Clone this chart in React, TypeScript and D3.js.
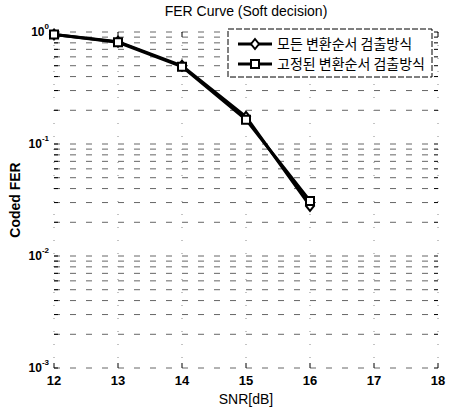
import React, { useEffect, useRef } from "react";
import * as d3 from "d3";

const snr = [12, 13, 14, 15, 16];
const ferAll = [0.95, 0.82, 0.5, 0.175, 0.028];
const ferFixed = [0.95, 0.81, 0.49, 0.165, 0.031];
const xTicks = [12, 13, 14, 15, 16, 17, 18];
const yDecades = [0, -1, -2, -3];
const legendLabels = ["모든 변환순서 검출방식", "고정된 변환순서 검출방식"];

const W = 451;
const H = 409;
const margin = { left: 54, right: 13, top: 32, bottom: 41 };

const App = () => {
  const ref = useRef<SVGSVGElement>(null);

  useEffect(() => {
    const svg = d3.select(ref.current);
    svg.selectAll("*").remove();

    const x = d3.scaleLinear().domain([12, 18]).range([margin.left, W - margin.right]);
    const y = d3.scaleLog().domain([1e-3, 1]).range([H - margin.bottom, margin.top]);
    const font = "'Liberation Sans', Arial, sans-serif";

    const g = svg.append("g");

    // grid, dashed like matlab (scan makes it patchy)
    const minor: number[] = [];
    for (let e = -3; e < 0; e++) for (let m = 1; m < 10; m++) minor.push(m * Math.pow(10, e));
    minor.push(1);
    g.selectAll(".hg")
      .data(minor)
      .enter()
      .append("line")
      .attr("x1", x(12))
      .attr("x2", x(18))
      .attr("y1", (d) => y(d))
      .attr("y2", (d) => y(d))
      .attr("stroke", "#666")
      .attr("stroke-width", 1)
      .attr("stroke-dasharray", "6,10");
    g.selectAll(".vg")
      .data(xTicks)
      .enter()
      .append("line")
      .attr("x1", (d) => x(d))
      .attr("x2", (d) => x(d))
      .attr("y1", y(1))
      .attr("y2", y(1e-3))
      .attr("stroke", "#888")
      .attr("stroke-width", 1)
      .attr("stroke-dasharray", "1,12");

    // inner ticks on left/right
    g.selectAll(".tl")
      .data(minor)
      .enter()
      .append("path")
      .attr("d", (d) => `M${x(12)},${y(d)}h4M${x(18)},${y(d)}h-4`)
      .attr("stroke", "#000");
    g.selectAll(".tb")
      .data(xTicks)
      .enter()
      .append("path")
      .attr("d", (d) => `M${x(d)},${y(1e-3)}v-5M${x(d)},${y(1)}v5`)
      .attr("stroke", "#000");

    // x tick labels
    g.selectAll(".xl")
      .data(xTicks)
      .enter()
      .append("text")
      .attr("x", (d) => x(d))
      .attr("y", y(1e-3) + 17)
      .attr("text-anchor", "middle")
      .attr("font-family", font)
      .attr("font-size", 13)
      .attr("font-weight", "bold")
      .text((d) => d);

    // y tick labels 10^e
    const yl = g
      .selectAll(".yl")
      .data(yDecades)
      .enter()
      .append("text")
      .attr("x", x(12) - 5)
      .attr("y", (d) => y(Math.pow(10, d)) + 4)
      .attr("text-anchor", "end")
      .attr("font-family", font)
      .attr("font-size", 12)
      .attr("font-weight", "bold");
    yl.append("tspan").text("10");
    yl.append("tspan")
      .attr("dy", -7)
      .attr("font-size", 8)
      .text((d) => d);

    // titles
    svg.append("text")
      .attr("x", (x(12) + x(18)) / 2)
      .attr("y", 16)
      .attr("text-anchor", "middle")
      .attr("font-family", font)
      .attr("font-size", 14)
      .text("FER Curve (Soft decision)");
    svg.append("text")
      .attr("x", (x(12) + x(18)) / 2)
      .attr("y", H - 5)
      .attr("text-anchor", "middle")
      .attr("font-family", font)
      .attr("font-size", 14)
      .text("SNR[dB]");
    svg.append("text")
      .attr("transform", `translate(20,${(y(1) + y(1e-3)) / 2}) rotate(-90)`)
      .attr("text-anchor", "middle")
      .attr("font-family", font)
      .attr("font-size", 14)
      .attr("font-weight", "bold")
      .text("Coded FER");

    // curves
    const line = d3
      .line<number>()
      .x((d, i) => x(snr[i]))
      .y((d) => y(d));
    const series = [ferAll, ferFixed];
    series.forEach((s) => {
      g.append("path")
        .datum(s)
        .attr("d", line)
        .attr("fill", "none")
        .attr("stroke", "#000")
        .attr("stroke-width", 3);
    });
    const diamond = "M0,-5L4,0L0,5L-4,0Z";
    const square = "M-4,-4H4V4H-4Z";
    g.selectAll(".md")
      .data(ferAll)
      .enter()
      .append("path")
      .attr("d", diamond)
      .attr("transform", (d, i) => `translate(${x(snr[i])},${y(d)})`)
      .attr("fill", "#fff")
      .attr("stroke", "#000")
      .attr("stroke-width", 2);
    g.selectAll(".ms")
      .data(ferFixed)
      .enter()
      .append("path")
      .attr("d", square)
      .attr("transform", (d, i) => `translate(${x(snr[i])},${y(d)})`)
      .attr("fill", "#fff")
      .attr("stroke", "#000")
      .attr("stroke-width", 2);

    // legend
    const lg = svg.append("g").attr("transform", "translate(228,29)");
    lg.append("rect")
      .attr("width", 204)
      .attr("height", 48)
      .attr("fill", "#fff")
      .attr("stroke", "#000")
      .attr("stroke-width", 1)
      .attr("stroke-dasharray", "6,2");
    legendLabels.forEach((t, i) => {
      const ly = 15 + i * 20;
      lg.append("line")
        .attr("x1", 10)
        .attr("x2", 44)
        .attr("y1", ly)
        .attr("y2", ly)
        .attr("stroke", "#000")
        .attr("stroke-width", 3);
      lg.append("path")
        .attr("d", i === 0 ? diamond : square)
        .attr("transform", `translate(27,${ly})`)
        .attr("fill", "#fff")
        .attr("stroke", "#000")
        .attr("stroke-width", 2);
      lg.append("text")
        .attr("x", 49)
        .attr("y", ly + 5)
        .attr("font-family", "'Noto Sans CJK KR', sans-serif")
        .attr("font-size", 14)
        .text(t);
    });
  }, []);

  return <svg ref={ref} width={W} height={H} style={{ position: "absolute", left: 0, top: 0, background: "#fff" }} />;
};

export default App;
